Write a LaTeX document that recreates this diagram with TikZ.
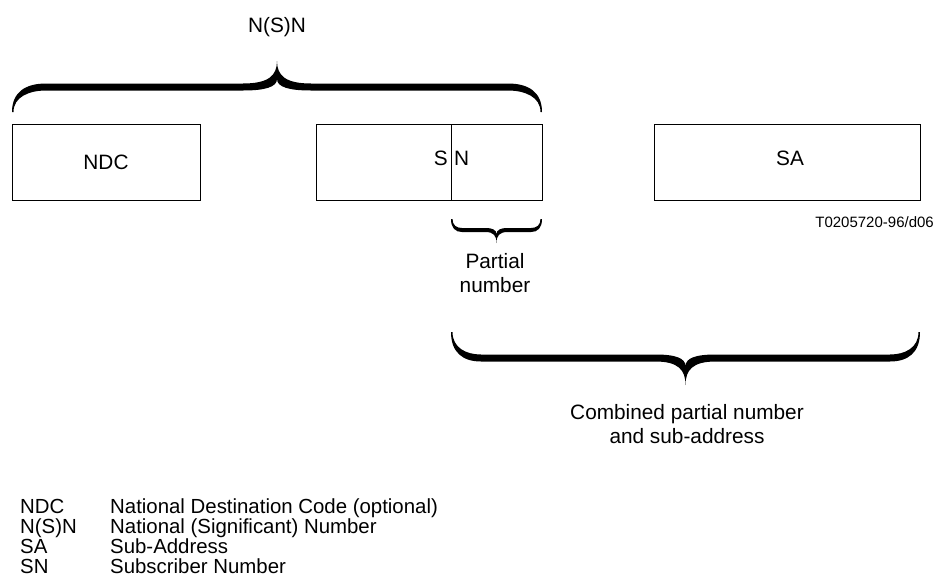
\documentclass[tikz,border=0pt]{standalone}
\usepackage{fontspec}
\setmainfont{Liberation Sans}

\tikzset{
  field/.style={draw, line width=1pt, minimum height=76pt, inner sep=0pt, outer sep=0pt},
  lbl/.style={font=\fontsize{20.8}{24}\selectfont, inner sep=0pt, align=center},
  small/.style={font=\fontsize{15}{18}\selectfont, inner sep=0pt},
  key/.style={font=\fontsize{20.4}{20}\selectfont, inner sep=0pt, anchor=base west},
  % width, tip, band, thickness, curve
  pics/fatbrace/.style n args={5}{code={
    \fill (0,0) .. controls (0,{(#3+#4/2)*0.7}) and ({#5*0.4},{#3+#4/2}) .. (#5,{#3+#4/2})
      -- ({#1/2-#5},{#3+#4/2}) .. controls ({#1/2-#5*0.25},{#3+#4/2}) and ({#1/2},{#3+#4/2+(#2-#3-#4/2)*0.35}) .. ({#1/2},#2)
      .. controls ({#1/2},{#3+#4/2+(#2-#3-#4/2)*0.35}) and ({#1/2+#5*0.25},{#3+#4/2}) .. ({#1/2+#5},{#3+#4/2})
      -- ({#1-#5},{#3+#4/2}) .. controls ({#1-#5*0.4},{#3+#4/2}) and (#1,{(#3+#4/2)*0.7}) .. (#1,0)
      -- ({#1-1.5},0) .. controls ({#1-1.5},{(#3-#4/2)*0.7}) and ({#1-#5*0.5},{#3-#4/2}) .. ({#1-#5},{#3-#4/2})
      -- ({#1/2+#5},{#3-#4/2}) .. controls ({#1/2+#5*0.35},{#3-#4/2}) and ({#1/2},{#3}) .. ({#1/2},{#3+#4/2+(#2-#3-#4/2)*0.2})
      .. controls ({#1/2},{#3}) and ({#1/2-#5*0.35},{#3-#4/2}) .. ({#1/2-#5},{#3-#4/2})
      -- (#5,{#3-#4/2}) .. controls ({#5*0.5},{#3-#4/2}) and (1.5,{(#3-#4/2)*0.7}) .. (1.5,0) -- cycle;
  }},
}

\begin{document}
\begin{tikzpicture}[x=1pt,y=-1pt]
\useasboundingbox (0,0) rectangle (935,587);
\node[field, minimum width=188pt, anchor=north west] (ndc) at (12,124) {};
\node[field, minimum width=135pt, anchor=north west] (snl) at (316,124) {};
\node[field, minimum width=91pt, anchor=north west] (snr) at (451,124) {};
\node[field, minimum width=266pt, anchor=north west] (sa) at (654,124) {};
\node[lbl] at (106,162) {NDC};
\node[lbl, anchor=east] at ([xshift=-3pt,yshift=4pt]snl.east) {S};
\node[lbl, anchor=west] at ([xshift=3pt,yshift=4pt]snr.west) {N};
\node[lbl] at (790,158) {SA};

% braces
\pic[yscale=-1] at ([yshift=12pt]ndc.north west) {fatbrace={530}{51}{25}{7}{34}};
\pic at ([yshift=-19pt]snr.south west) {fatbrace={91}{24}{11}{4}{11}};
\pic at ([yshift=-132pt]snr.south west) {fatbrace={469}{53}{26}{7}{30}};

\node[lbl] (nsn) at (277,27) {N(S)N};
\node[lbl] (partial) at (495,273.5) {Partial\\number};
\node[lbl] (combined) at (687,424) {Combined partial number\\and sub-address};
\node[small, anchor=east] (code) at (934,222) {T0205720-96/d06};

% legend
\foreach \abbr/\txt [count=\i] in {NDC/National Destination Code (optional),
  N(S)N/National (Significant) Number, SA/Sub-Address, SN/Subscriber Number}
{
  \node[key] (abbr\i) at (20,493+20.2*\i) {\abbr};
  \node[key] (txt\i) at (110,493+20.2*\i) {\txt};
}
\end{tikzpicture}
\end{document}
